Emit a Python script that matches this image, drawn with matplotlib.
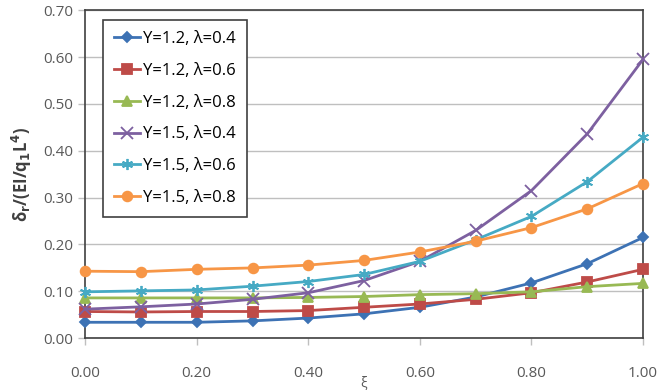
import numpy as np
import matplotlib
matplotlib.use("Agg")
import matplotlib.pyplot as plt

plt.rcParams['font.family'] = ['Open Sans', 'DejaVu Sans']
plt.rcParams['mathtext.default'] = 'bf'

x = [0.0, 0.1, 0.2, 0.3, 0.4, 0.5, 0.6, 0.7, 0.8, 0.9, 1.0]

y12_l04 = [0.034, 0.034, 0.034, 0.037, 0.043, 0.052, 0.066, 0.088, 0.118, 0.159, 0.215]
y12_l06 = [0.057, 0.056, 0.057, 0.057, 0.059, 0.066, 0.073, 0.083, 0.097, 0.120, 0.147]
y12_l08 = [0.086, 0.086, 0.086, 0.086, 0.087, 0.089, 0.093, 0.095, 0.099, 0.110, 0.117]
y15_l04 = [0.062, 0.067, 0.073, 0.083, 0.097, 0.123, 0.164, 0.230, 0.315, 0.436, 0.595]
y15_l06 = [0.099, 0.101, 0.103, 0.111, 0.121, 0.136, 0.164, 0.210, 0.260, 0.334, 0.429]
y15_l08 = [0.143, 0.142, 0.147, 0.150, 0.156, 0.166, 0.184, 0.207, 0.236, 0.276, 0.330]

labels = ["Y=1.2, λ=0.4", "Y=1.2, λ=0.6", "Y=1.2, λ=0.8",
          "Y=1.5, λ=0.4", "Y=1.5, λ=0.6", "Y=1.5, λ=0.8"]
series = [y12_l04, y12_l06, y12_l08, y15_l04, y15_l06, y15_l08]
colors = ["#3D72B4", "#BE4B48", "#98B954", "#7D60A0", "#46AAC4", "#F79646"]
markers = ["D", "s", "^", "x", (6, 2, 0), "o"]
msizes = [5, 7, 7, 8, 8, 7]

fig = plt.figure(figsize=(6.65, 3.91), dpi=100)
ax = fig.add_axes([0.128, 0.135, 0.839, 0.839])

for ys, lab, c, m, ms in zip(series, labels, colors, markers, msizes):
    ax.plot(x, ys, color=c, marker=m, markersize=ms, linewidth=2,
            markeredgewidth=1.3, label=lab, clip_on=False, zorder=3)

ax.set_xlim(0, 1.0)
ax.set_ylim(0, 0.70)
ax.set_xticks(np.arange(0, 1.01, 0.2))
ax.set_yticks(np.arange(0, 0.701, 0.1))
ax.xaxis.set_major_formatter(matplotlib.ticker.FormatStrFormatter('%.2f'))
ax.yaxis.set_major_formatter(matplotlib.ticker.FormatStrFormatter('%.2f'))
ax.grid(True, axis='y', color='#BFBFBF', linewidth=1)
ax.set_axisbelow(True)
for s in ax.spines.values():
    s.set_color('#404040')
    s.set_linewidth(1.2)
ax.tick_params(axis='both', colors='#BFBFBF', labelcolor='#595959', labelsize=11,
               length=5, width=1)
ax.tick_params(axis='x', pad=15)

ax.set_ylabel(r'δ$_r$/(EI/q$_1$L$^4$)', fontsize=12, fontweight='bold', color='#404040',
              labelpad=7)
# x label sits at the very bottom edge, as in the source image
fig.text(0.547, 0.0, 'ξ', fontsize=10, color='#595959', ha='center', va='bottom')

leg = ax.legend(loc='upper left', bbox_to_anchor=(0.032, 0.97), fontsize=12,
                fancybox=False, framealpha=1, edgecolor='#404040',
                handlelength=1.6, handletextpad=0.15, labelspacing=0.95,
                borderpad=0.65, borderaxespad=0)
leg.get_frame().set_linewidth(1.2)

fig.savefig("out.png", dpi=100)
